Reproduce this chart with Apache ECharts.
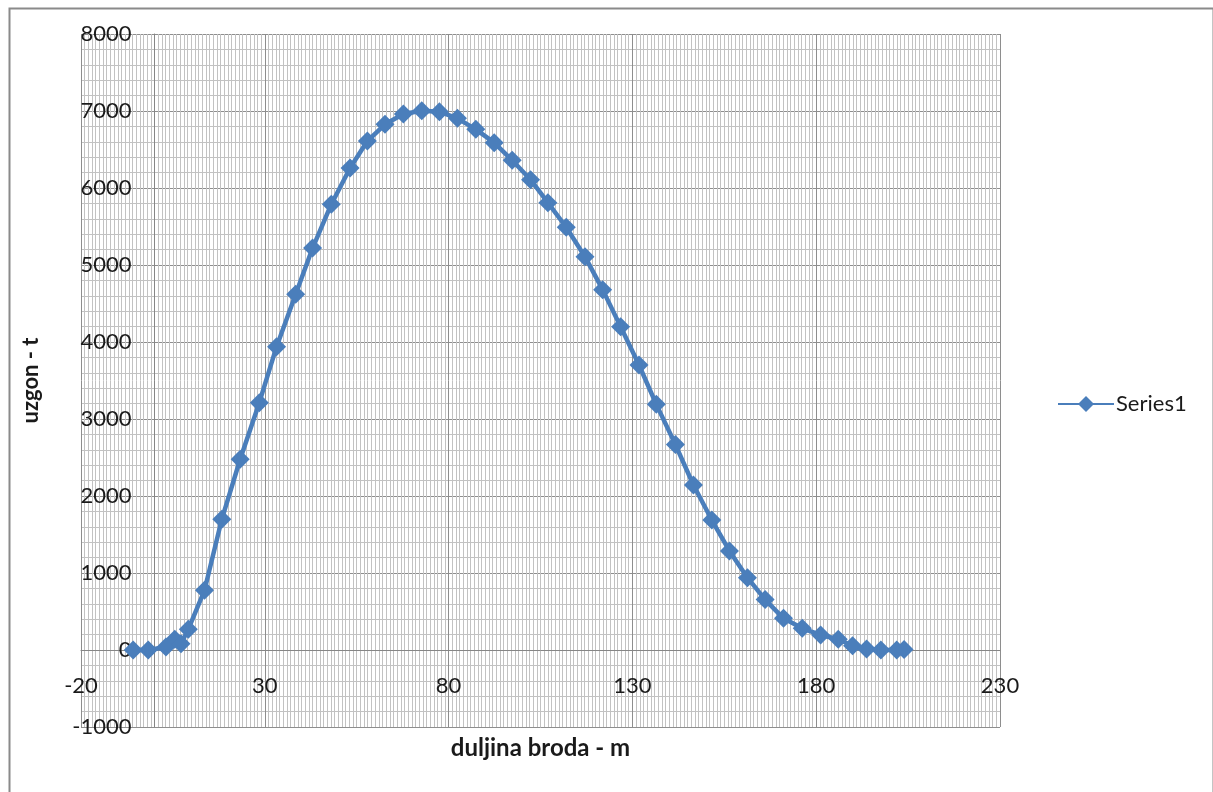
<!DOCTYPE html>
<html>
<head>
<meta charset="utf-8">
<script src="https://cdn.jsdelivr.net/npm/echarts@6/dist/echarts.min.js"></script>
<style>
html,body{margin:0;padding:0;background:#fff;}
#chart{width:1213px;height:792px;}
</style>
</head>
<body>
<div id="chart"></div>
<script>
// Data
const seriesName = 'Series1';
const xValues = [-5.8, -1.7, 3.1, 5.5, 7.2, 9.2, 13.6, 18.3, 23.3, 28.5, 33.2, 38.4, 43.0, 48.1, 53.2, 57.9, 62.7, 67.7, 72.7, 77.5, 82.4, 87.4, 92.4, 97.3, 102.3, 107.0, 112.0, 117.1, 121.9, 126.8, 131.8, 136.5, 141.7, 146.6, 151.6, 156.4, 161.3, 166.1, 171.1, 176.2, 181.2, 186.0, 189.9, 193.7, 197.6, 201.9, 203.9];
const yValues = [0, 0, 40, 140, 80, 270, 775, 1697, 2477, 3212, 3939, 4619, 5220, 5790, 6260, 6610, 6827, 6961, 7004, 6991, 6905, 6762, 6589, 6360, 6108, 5810, 5490, 5108, 4680, 4199, 3701, 3190, 2668, 2143, 1688, 1286, 939, 655, 411, 282, 195, 140, 55, 12, 0, 0, 5];
const xAxisTitle = 'duljina broda - m';
const yAxisTitle = 'uzgon - t';

const points = xValues.map((x, i) => [x, yValues[i]]);
const FONT = 'Lato, "Open Sans", sans-serif';
const GRID = {left: 81, right: 213, top: 34, bottom: 65};
const X_MIN = -20, X_MAX = 230, Y_MIN = -1000, Y_MAX = 8000;
// shift axes so they cross at zero like the reference (axis lines sit on x=0 / y=0)
const plotW = 1213 - GRID.left - GRID.right;
const plotH = 792 - GRID.top - GRID.bottom;
const yAxisShift = -plotW * (0 - X_MIN) / (X_MAX - X_MIN);
const xAxisShift = -plotH * (0 - Y_MIN) / (Y_MAX - Y_MIN);

const chart = echarts.init(document.getElementById('chart'), null, {renderer: 'canvas'});
chart.setOption({
  animation: false,
  backgroundColor: '#ffffff',
  graphic: [{
    type: 'rect', left: 7, top: 6, silent: true,
    shape: {width: 1204, height: 800},
    style: {fill: 'none', stroke: '#8a8a8a', lineWidth: 2}
  }],
  grid: Object.assign({containLabel: false, outerBoundsMode: 'none'}, GRID),
  legend: {
    data: [seriesName], orient: 'vertical', left: 1052, top: 388,
    itemWidth: 56, itemHeight: 20, itemGap: 8,
    textStyle: {fontFamily: FONT, fontSize: 22, color: '#1a1a1a', padding: [0, 0, 0, -3]}
  },
  xAxis: {
    type: 'value', min: X_MIN, max: X_MAX, interval: 50,
    position: 'bottom', offset: xAxisShift,
    name: xAxisTitle, nameLocation: 'middle', nameGap: 86,
    nameTextStyle: {fontFamily: FONT, fontSize: 24, fontWeight: 'bold', color: '#1a1a1a'},
    axisLine: {show: true, onZero: false, lineStyle: {color: '#868686', width: 1}},
    axisTick: {show: false},
    axisLabel: {fontFamily: FONT, fontSize: 22, color: '#1a1a1a', margin: 25,
      formatter: v => String(v)},
    splitLine: {show: true, lineStyle: {color: '#8e8e8e', width: 1}},
    minorTick: {show: false, splitNumber: 50},
    minorSplitLine: {show: true, lineStyle: {color: '#c2c2c2', width: 1}}
  },
  yAxis: {
    type: 'value', min: Y_MIN, max: Y_MAX, interval: 1000,
    position: 'left', offset: yAxisShift,
    name: yAxisTitle, nameLocation: 'middle', nameGap: 113,
    nameTextStyle: {fontFamily: FONT, fontSize: 22, fontWeight: 'bold', color: '#1a1a1a'},
    axisLine: {show: true, onZero: false, lineStyle: {color: '#868686', width: 1}},
    axisTick: {show: false},
    axisLabel: {fontFamily: FONT, fontSize: 22, color: '#1a1a1a', margin: 23,
      formatter: v => String(v)},
    splitLine: {show: true, lineStyle: {color: '#8e8e8e', width: 1}},
    minorTick: {show: false, splitNumber: 5},
    minorSplitLine: {show: true, lineStyle: {color: '#c2c2c2', width: 1}}
  },
  series: [{
    name: seriesName, type: 'line', data: points,
    symbol: 'diamond', symbolSize: 19, showAllSymbol: true,
    lineStyle: {color: '#4A7EBB', width: 4.5},
    itemStyle: {color: '#4A7EBB', borderWidth: 0}
  }]
});
</script>
</body>
</html>
